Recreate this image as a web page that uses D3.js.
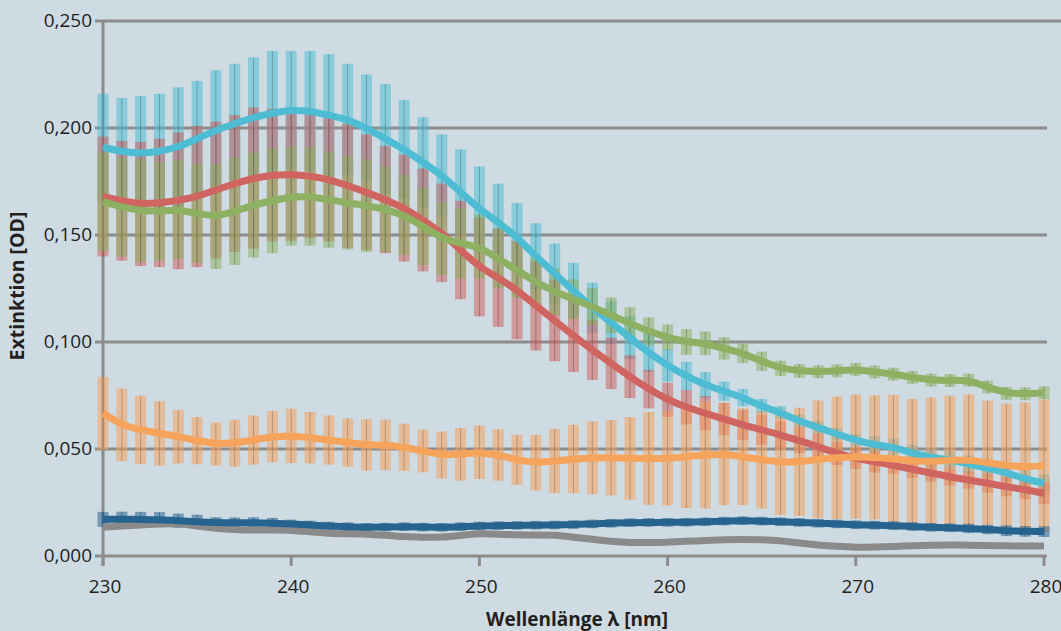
<!DOCTYPE html>
<html>
<head>
<meta charset="utf-8">
<script src="https://cdn.jsdelivr.net/npm/d3@7"></script>
<style>
  html, body { margin: 0; padding: 0; background: #cfdbe3; }
  svg { display: block; font-family: "Open Sans", "Noto Sans", sans-serif; }
</style>
</head>
<body>
<svg id="chart" width="1061" height="631"></svg>
<script>
// wavelength in nm, one bar per nm
const wavelengths = [230,231,232,233,234,235,236,237,238,239,240,241,242,243,244,245,246,247,248,249,250,
  251,252,253,254,255,256,257,258,259,260,261,262,263,264,265,266,267,268,269,270,
  271,272,273,274,275,276,277,278,279,280];

const yTicks = [0, 0.05, 0.1, 0.15, 0.2, 0.25];
const xTicks = [230, 240, 250, 260, 270, 280];

// cyan
const cyanMean = [.191,.189,.188,.189,.191,.195,.199,.202,.205,.207,.2085,.208,.206,.204,.200,.195,.190,.184,.178,.170,.162,
  .156,.149,.140,.132,.124,.116,.109,.102,.095,.089,.084,.080,.077,.074,.070,.067,.063,.060,.057,.054,
  .052,.051,.048,.046,.045,.043,.041,.039,.036,.034];
const cyanSd = [.025,.025,.027,.027,.028,.027,.028,.028,.028,.029,.0275,.028,.0285,.026,.025,.0256,.023,.021,.019,.020,.020,
  .018,.016,.0155,.014,.013,.0117,.010,.010,.009,.0075,.0067,.006,.0045,.004,.0034,.003,.003,.003,.003,.003,
  .004,.004,.004,.004,.004,.004,.004,.004,.004,.004];

// red
const redMean = [.168,.166,.1645,.165,.166,.168,.171,.174,.1766,.178,.1783,.1775,.176,.173,.170,.1665,.1626,.157,.151,.143,.135,
  .130,.1243,.117,.110,.103,.0963,.090,.0838,.078,.073,.0695,.0667,.064,.0612,.059,.0565,.054,.051,.048,.0457,
  .044,.0425,.0405,.0388,.037,.0355,.034,.0324,.031,.0293];
const redSd = [.028,.028,.029,.030,.032,.033,.032,.032,.033,.031,.031,.029,.029,.029,.027,.025,.025,.024,.023,.023,.023,
  .023,.023,.021,.019,.017,.014,.012,.010,.009,.008,.008,.008,.0075,.007,.007,.0065,.006,.006,.0055,.005,
  .005,.004,.004,.004,.004,.004,.0045,.0045,.0045,.005];

// green
const greenMean = [.1656,.163,.1614,.161,.162,.160,.1586,.161,.164,.166,.168,.168,.1665,.165,.1637,.162,.1593,.154,.1484,.146,.1445,
  .139,.1336,.128,.1235,.120,.1165,.1125,.1087,.105,.1022,.100,.0994,.097,.0947,.091,.0877,.0865,.0861,.0865,.0872,
  .086,.085,.0835,.0822,.082,.0822,.079,.076,.0758,.0763];
const greenSd = [.023,.023,.024,.023,.023,.023,.0245,.025,.0245,.0245,.023,.023,.0224,.0218,.0216,.020,.0187,.018,.017,.0164,.015,
  .014,.013,.0117,.0108,.0093,.0086,.0083,.0075,.0065,.006,.006,.0055,.0052,.0045,.0045,.0036,.0032,.003,.003,.003,
  .003,.003,.003,.003,.003,.003,.003,.003,.003,.003];

// orange
const orangeMean = [.0667,.0612,.0589,.0573,.0558,.0539,.0523,.0527,.0542,.0558,.0561,.0553,.0542,.053,.0519,.0519,.0508,.0491,.0472,.0475,.0485,
  .0472,.0449,.0436,.0444,.0453,.0459,.0459,.0456,.0456,.0456,.0464,.0472,.0477,.0464,.0449,.0438,.044,.0452,.0459,.0464,
  .0461,.0453,.0444,.0441,.0449,.0449,.0436,.0422,.0417,.0422];
const orangeSd = [.017,.017,.016,.015,.0125,.011,.010,.011,.0115,.012,.0127,.012,.0115,.0113,.012,.0118,.011,.010,.011,.0123,.0125,
  .012,.0117,.013,.015,.016,.017,.0176,.0193,.0217,.022,.024,.025,.024,.0226,.0227,.0246,.0253,.0275,.0286,.029,
  .029,.030,.029,.030,.030,.0306,.029,.029,.030,.031];

// dark blue
const blueMean = [.0171,.0172,.0171,.017,.0165,.016,.0156,.0155,.0156,.0153,.015,.0145,.014,.0137,.0134,.0135,.0137,.0135,.0134,.0137,.014,
  .0142,.0143,.0144,.0145,.0147,.015,.0153,.0156,.0157,.0157,.0158,.016,.0163,.0165,.0163,.016,.0157,.0153,.015,.0146,
  .0144,.0142,.0138,.0134,.0132,.0129,.0124,.0118,.0115,.0114];
const blueSd = [.0035,.0035,.0035,.0035,.0033,.0033,.0025,.0025,.0025,.0025,.002,.002,.002,.002,.002,.002,.002,.002,.002,.002,.002,
  .002,.002,.002,.002,.002,.002,.002,.002,.002,.002,.002,.002,.002,.002,.002,.002,.002,.002,.002,.002,
  .002,.002,.002,.002,.002,.0022,.0022,.0025,.0025,.0025];

// gray (no error bars)
const grayMean = [.0134,.014,.0145,.015,.0153,.014,.0129,.0124,.0121,.0121,.0121,.0113,.0106,.0104,.0103,.0097,.009,.0088,.0087,.0096,.0106,
  .0102,.0098,.0099,.0098,.0088,.0078,.0068,.0062,.0063,.0064,.0069,.0072,.0076,.0078,.0076,.0072,.006,.0051,.0045,.004,
  .0042,.0044,.0048,.0051,.0051,.0051,.0049,.0047,.0047,.0047];

// bars drawn in this order, lines drawn by lineOrder
const series = [
  {name:"cyan",   color:"#4ebdd3", mean:cyanMean,   sd:cyanSd,   lineOrder:2},
  {name:"red",    color:"#cf6460", mean:redMean,    sd:redSd,    lineOrder:3},
  {name:"green",  color:"#8db062", mean:greenMean,  sd:greenSd,  lineOrder:4},
  {name:"orange", color:"#f6a35c", mean:orangeMean, sd:orangeSd, lineOrder:5},
  {name:"blue",   color:"#27638f", mean:blueMean,   sd:blueSd,   lineOrder:1},
  {name:"gray",   color:"#8a8a8a", mean:grayMean,   sd:null,     lineOrder:0},
];

const axisColor = "#8c8c8c";
const textColor = "#231f20";
const barWidth = 11;

const svg = d3.select("#chart");

const x = d3.scaleLinear().domain([230, 280]).range([103, 1044]);
const y = d3.scaleLinear().domain([0, 0.25]).range([556, 21]);
const fmt = v => d3.format(".3f")(v).replace(".", ",");

// grid lines + y tick labels
const grid = svg.append("g");
grid.selectAll("line")
  .data(yTicks)
  .join("line")
    .attr("x1", 95)
    .attr("x2", d => d === 0.25 ? 1061 : 1047)
    .attr("y1", d => y(d))
    .attr("y2", d => y(d))
    .attr("stroke", axisColor)
    .attr("stroke-width", 3);

grid.selectAll("text")
  .data(yTicks)
  .join("text")
    .attr("x", 92)
    .attr("y", d => y(d))
    .attr("dy", "0.34em")
    .attr("text-anchor", "end")
    .attr("font-size", 19)
    .attr("fill", textColor)
    .text(fmt);

// left axis
svg.append("line")
  .attr("x1", x(230)).attr("x2", x(230))
  .attr("y1", y(0.25)).attr("y2", y(0) + 10)
  .attr("stroke", axisColor)
  .attr("stroke-width", 3);

// x ticks
const xg = svg.append("g");
xg.selectAll("line")
  .data(xTicks)
  .join("line")
    .attr("x1", d => x(d)).attr("x2", d => x(d))
    .attr("y1", y(0)).attr("y2", y(0) + 10)
    .attr("stroke", axisColor)
    .attr("stroke-width", 3);

xg.selectAll("text")
  .data(xTicks)
  .join("text")
    .attr("x", d => x(d) + 2)
    .attr("y", 593)
    .attr("text-anchor", "middle")
    .attr("font-size", 19)
    .attr("fill", textColor)
    .text(d => d);

// error bars
for (const s of series)
{
  if (!s.sd) continue;
  const g = svg.append("g").attr("class", `bars-${s.name}`);
  const pts = wavelengths.map((w, i) => ({w, m: s.mean[i], e: s.sd[i]}));
  g.selectAll("rect")
    .data(pts)
    .join("rect")
      .attr("x", d => x(d.w) - barWidth / 2)
      .attr("width", barWidth)
      .attr("y", d => y(d.m + d.e))
      .attr("height", d => y(d.m - d.e) - y(d.m + d.e))
      .attr("fill", s.color)
      .attr("opacity", 0.55);
  g.selectAll("line")
    .data(pts)
    .join("line")
      .attr("x1", d => x(d.w)).attr("x2", d => x(d.w))
      .attr("y1", d => y(d.m + d.e))
      .attr("y2", d => y(d.m - d.e))
      .attr("stroke", d3.color(s.color).darker(1.5))
      .attr("stroke-width", 1)
      .attr("opacity", 0.45);
}

// smoothed lines
const line = d3.line()
  .x(d => x(d.w))
  .y(d => y(d.m))
  .curve(d3.curveBasis);

for (const s of series.slice().sort((a, b) => a.lineOrder - b.lineOrder))
{
  svg.append("path")
    .datum(wavelengths.map((w, i) => ({w, m: s.mean[i]})))
    .attr("d", line)
    .attr("fill", "none")
    .attr("stroke", s.color)
    .attr("stroke-width", 7)
    .attr("stroke-linecap", "butt");
}

// axis titles
svg.append("text")
  .attr("x", 577)
  .attr("y", 626)
  .attr("text-anchor", "middle")
  .attr("font-size", 19)
  .attr("font-weight", "bold")
  .attr("fill", textColor)
  .text("Wellenlänge λ [nm]");

svg.append("text")
  .attr("transform", "translate(24,286) rotate(-90)")
  .attr("text-anchor", "middle")
  .attr("font-size", 19.5)
  .attr("font-weight", "bold")
  .attr("fill", textColor)
  .text("Extinktion [OD]");
</script>
</body>
</html>
